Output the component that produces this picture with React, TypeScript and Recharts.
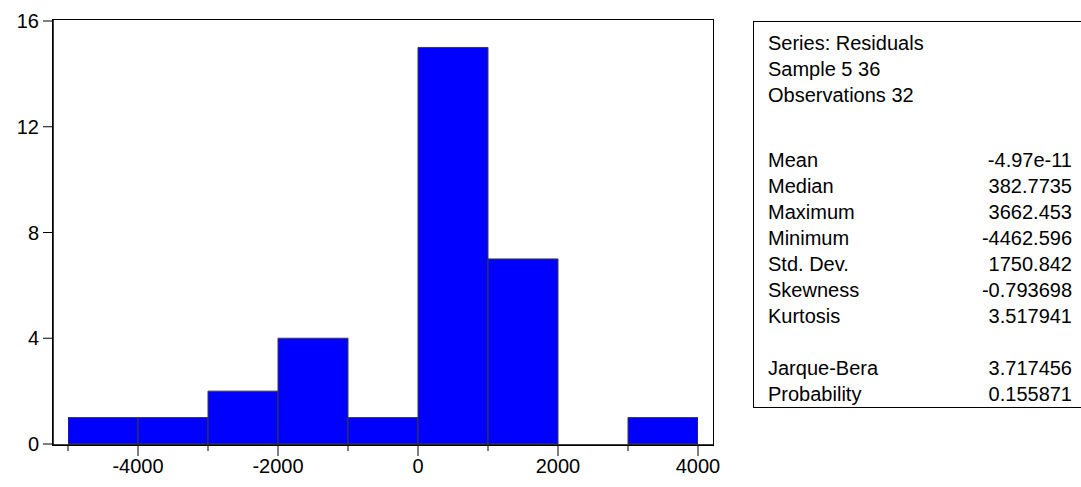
import { Bar, ComposedChart, XAxis, YAxis } from "recharts";

// histogram bins (lower edge) and counts
const binStarts = [-5000, -4000, -3000, -2000, -1000, 0, 1000, 2000, 3000];
const binWidth = 1000;
const counts = [1, 1, 2, 4, 1, 15, 7, 0, 1];

const xTicks = [-5000, -4000, -3000, -2000, -1000, 0, 1000, 2000, 3000, 4000];
const xLabels = [-4000, -2000, 0, 2000, 4000];
const yTicks = [0, 4, 8, 12, 16];

const statsHeader = ["Series: Residuals", "Sample 5 36", "Observations 32"];
const statsNames = ["Mean", "Median", "Maximum", "Minimum", "Std. Dev.", "Skewness", "Kurtosis"];
const statsValues = ["-4.97e-11", "382.7735", "3662.453", "-4462.596", "1750.842", "-0.793698", "3.517941"];
const testNames = ["Jarque-Bera", "Probability"];
const testValues = ["3.717456", "0.155871"];

const data = binStarts.map((s, i) => ({ mid: s + binWidth / 2, count: counts[i] }));

const FONT = "'Liberation Sans', Arial, sans-serif";

const XTick = (props: any) => {
  const { x, y, payload } = props;
  const major = xLabels.includes(payload.value);
  return (
    <g>
      <line x1={x} x2={x} y1={y} y2={y + (major ? 11 : 6)} stroke="#000" strokeWidth={1} />
      {major && (
        <text x={x} y={y + 28} textAnchor="middle" fontSize={20} fontFamily={FONT} fill="#000">
          {payload.value}
        </text>
      )}
    </g>
  );
};

const rowStyle = (top: number): React.CSSProperties => ({
  position: "absolute",
  left: 14,
  right: 20,
  top: top - 12,
  height: 24,
  lineHeight: "24px",
  display: "flex",
  justifyContent: "space-between",
  whiteSpace: "pre",
});

export default function App() {
  const boxTop = 21;
  return (
    <div style={{ position: "relative", width: 1081, height: 487, background: "#fff", overflow: "hidden" }}>
      <style>{`body{margin:0}`}</style>
      <ComposedChart
        width={1081}
        height={487}
        data={data}
        margin={{ top: 20, right: 368, bottom: 12, left: 0 }}
        barCategoryGap={0}
        barGap={0}
      >
        <XAxis
          dataKey="mid"
          type="number"
          domain={[-5000, 4000]}
          ticks={xTicks}
          interval={0}
          padding={{ left: 15, right: 15 }}
          height={30}
          tickSize={0}
          tickMargin={0}
          tickLine={false}
          tick={<XTick />}
          axisLine={{ stroke: "#000", strokeWidth: 1.5 }}
          allowDataOverflow
        />
        <YAxis
          type="number"
          domain={[0, 16]}
          ticks={yTicks}
          interval={0}
          width={53}
          padding={{ top: 1, bottom: 1 }}
          tickSize={10}
          tickMargin={4}
          tick={{ fontSize: 20, fontFamily: FONT, fill: "#000" }}
          tickLine={{ stroke: "#000" }}
          axisLine={{ stroke: "#000", strokeWidth: 1.5 }}
        />
        <Bar dataKey="count" fill="#0000ff" stroke="#3a3a3a" strokeWidth={1} isAnimationActive={false} />
      </ComposedChart>

      {/* plot frame */}
      <div
        style={{
          position: "absolute",
          left: 52,
          top: 19,
          width: 662,
          height: 427,
          border: "1.5px solid #000",
          boxSizing: "border-box",
          pointerEvents: "none",
        }}
      />

      <div
        style={{
          position: "absolute",
          left: 753,
          top: boxTop,
          width: 340,
          height: 408 - boxTop,
          border: "1px solid #000",
          boxSizing: "border-box",
          fontFamily: FONT,
          fontSize: 20,
          color: "#000",
        }}
      >
        {statsHeader.map((t, i) => (
          <div key={t} style={rowStyle(42 + i * 26 - boxTop)}>
            <span>{t}</span>
          </div>
        ))}
        {statsNames.map((n, i) => (
          <div key={n} style={rowStyle(159 + i * 26 - boxTop)}>
            <span>{n}</span>
            <span>{statsValues[i]}</span>
          </div>
        ))}
        {testNames.map((n, i) => (
          <div key={n} style={rowStyle(367 + i * 25.5 - boxTop)}>
            <span>{n}</span>
            <span>{testValues[i]}</span>
          </div>
        ))}
      </div>
    </div>
  );
}
